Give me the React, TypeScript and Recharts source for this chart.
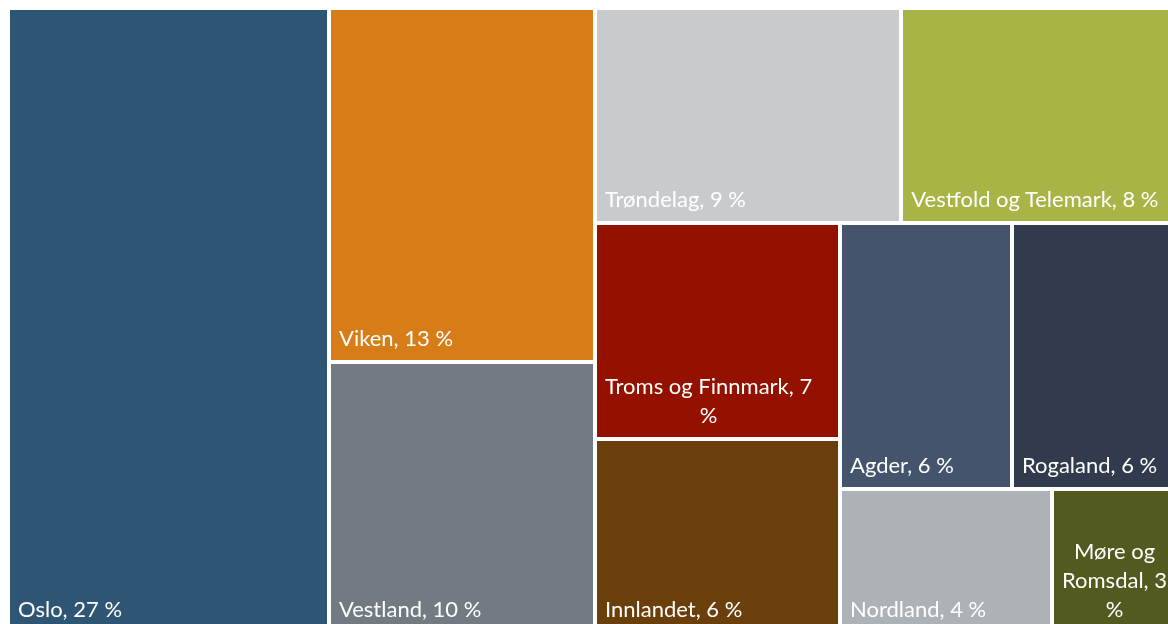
import { Treemap } from "recharts";

// Shares (%) estimated from tile areas; labels show the rounded value
const REGIONS = [
  "Oslo",
  "Viken",
  "Vestland",
  "Trøndelag",
  "Vestfold og Telemark",
  "Troms og Finnmark",
  "Innlandet",
  "Agder",
  "Rogaland",
  "Nordland",
  "Møre og Romsdal",
];
const SHARES = [27.2, 12.77, 9.77, 8.93, 8.32, 7.19, 6.41, 6.19, 6.38, 4.14, 2.68];
const COLORS = [
  "#2f5574",
  "#d77d17",
  "#737a81",
  "#c8cbcd",
  "#a8b445",
  "#941100",
  "#6b3f0c",
  "#44546c",
  "#323a4e",
  "#adb2b7",
  "#53591f",
];

const data = REGIONS.map((name, i) => ({
  name,
  value: SHARES[i],
  color: COLORS[i],
}));

const FONT_SIZE = 22;
const FONT = `${FONT_SIZE}px Lato`;
const LINE_H = 29;

let ctx: CanvasRenderingContext2D | null = null;
function measure(s: string) {
  if (!ctx) {
    ctx = document.createElement("canvas").getContext("2d");
  }
  if (!ctx) return s.length * FONT_SIZE * 0.48;
  ctx.font = FONT;
  return ctx.measureText(s).width;
}

function wrap(label: string, maxW: number) {
  const words = label.split(" ");
  const lines: string[] = [];
  let cur = "";
  for (const w of words) {
    const test = cur ? cur + " " + w : w;
    if (!cur || measure(test) <= maxW) {
      cur = test;
    } else {
      lines.push(cur);
      cur = w;
    }
  }
  if (cur) lines.push(cur);
  return lines;
}

function Tile(props: any) {
  const { x, y, width, height, depth, name, value, color } = props;
  if (depth !== 1) return null;
  const label = `${name}, ${Math.round(value)} %`;
  const lines = wrap(label, width - 20);
  const boxW = Math.max(...lines.map(measure));
  const cx = x + 10 + boxW / 2;
  const lastBase = y + height - 16.5;
  return (
    <g>
      <rect
        x={x}
        y={y}
        width={width}
        height={height}
        fill={color}
        stroke="#ffffff"
        strokeWidth={4}
      />
      <text
        fill="#ffffff"
        fontFamily="Lato"
        fontSize={FONT_SIZE}
        textAnchor="middle"
      >
        {lines.map((l, i) => (
          <tspan key={i} x={cx} y={lastBase - (lines.length - 1 - i) * LINE_H}>
            {l}
          </tspan>
        ))}
      </text>
    </g>
  );
}

export default function App() {
  // the chart runs past the right and bottom edges of the window, as in the original
  return (
    <div
      style={{
        position: "fixed",
        left: 8,
        top: 8,
        width: 1160,
        height: 616,
        overflow: "hidden",
      }}
    >
      <Treemap
        width={1180}
        height={625}
        data={data}
        dataKey="value"
        nameKey="name"
        aspectRatio={1}
        isAnimationActive={false}
        content={<Tile />}
      />
    </div>
  );
}
